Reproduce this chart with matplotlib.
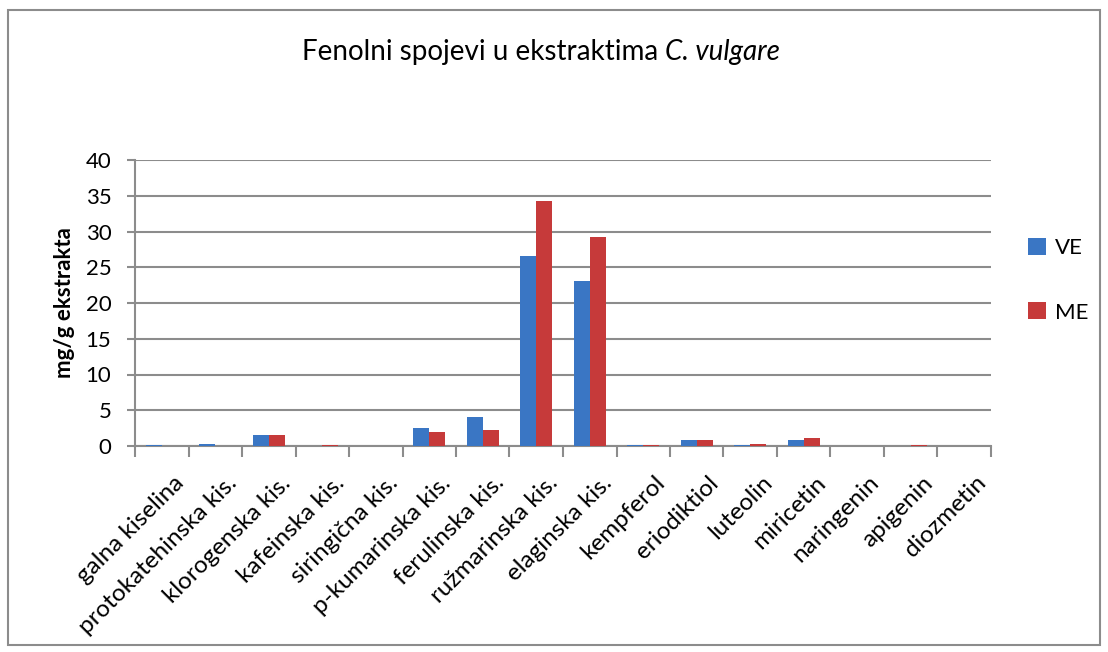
import numpy as np
import matplotlib.pyplot as plt
from matplotlib.patches import Rectangle
from matplotlib.transforms import offset_copy

# Sadržaj fenolnih spojeva (mg/g ekstrakta)
spojevi = ["galna kiselina", "protokatehinska kis.", "klorogenska kis.", "kafeinska kis.",
           "siringična kis.", "p-kumarinska kis.", "ferulinska kis.", "ružmarinska kis.",
           "elaginska kis.", "kempferol", "eriodiktiol", "luteolin", "miricetin",
           "naringenin", "apigenin", "diozmetin"]
ve = [0.1, 0.3, 1.5, 0.0, 0.0, 2.5, 4.1, 26.6, 23.1, 0.1, 0.85, 0.1, 0.85, 0.0, 0.0, 0.0]
me = [0.0, 0.0, 1.5, 0.1, 0.0, 2.0, 2.2, 34.2, 29.3, 0.1, 0.85, 0.25, 1.1, 0.0, 0.1, 0.0]

plt.rcParams['font.family'] = ['Lato', 'DejaVu Sans']
siva = "#8c8c8c"

fig = plt.figure(figsize=(11.08, 6.52), dpi=100)
ax = fig.add_axes([135 / 1108, 1 - 446 / 652, 856 / 1108, 286 / 652])

x = np.arange(len(spojevi))
w = 0.3
ax.bar(x - w / 2, ve, w, color="#3a76c4", label="VE", zorder=3)
ax.bar(x + w / 2, me, w, color="#c63a3a", label="ME", zorder=3)

ax.set_xlim(-0.5, len(spojevi) - 0.5)
ax.set_ylim(0, 40)
ax.set_yticks(np.arange(0, 41, 5))
ax.yaxis.grid(True, color=siva, linewidth=1.5, zorder=0)
ax.set_axisbelow(True)

for s in ["top", "right"]:
    ax.spines[s].set_visible(False)
for s in ["left", "bottom"]:
    ax.spines[s].set_color(siva)
    ax.spines[s].set_linewidth(1.5)

# kvačice između kategorija, nazivi ispod
ax.set_xticks(np.arange(-0.5, len(spojevi), 1))
ax.set_xticklabels([])
ax.tick_params(axis="x", length=8, width=1.5, color=siva, direction="out")
ax.tick_params(axis="y", length=6, width=1.5, color=siva, labelsize=16, pad=11)

trans = offset_copy(ax.get_xaxis_transform(), fig=fig, x=11, y=-26, units="dots")
for i, naziv in enumerate(spojevi):
    ax.text(i, 0, naziv, transform=trans, rotation=45, ha="right", va="top",
            rotation_mode="anchor", fontsize=17.5)

ax.set_ylabel("mg/g ekstrakta", fontsize=16, fontweight="bold", labelpad=8)

# naslov: obični dio + kurziv za naziv vrste
fig.text(658 / 1108, 1 - 52 / 652, "Fenolni spojevi u ekstraktima", ha="right", va="center", fontsize=20)
fig.text(665 / 1108, 1 - 52 / 652, "C. vulgare", ha="left", va="center", fontsize=20, style="italic")

ax.legend(loc="center left", bbox_to_anchor=(1.02, 0.58), frameon=False, fontsize=16,
          handlelength=0.8, handleheight=0.8, labelspacing=2.0, handletextpad=0.4)

fig.patches.append(Rectangle((8 / 1108, 7 / 652), 1092 / 1108, 635 / 652, transform=fig.transFigure,
                             fill=False, edgecolor=siva, linewidth=1.5))

fig.savefig("out.png", dpi=100)
